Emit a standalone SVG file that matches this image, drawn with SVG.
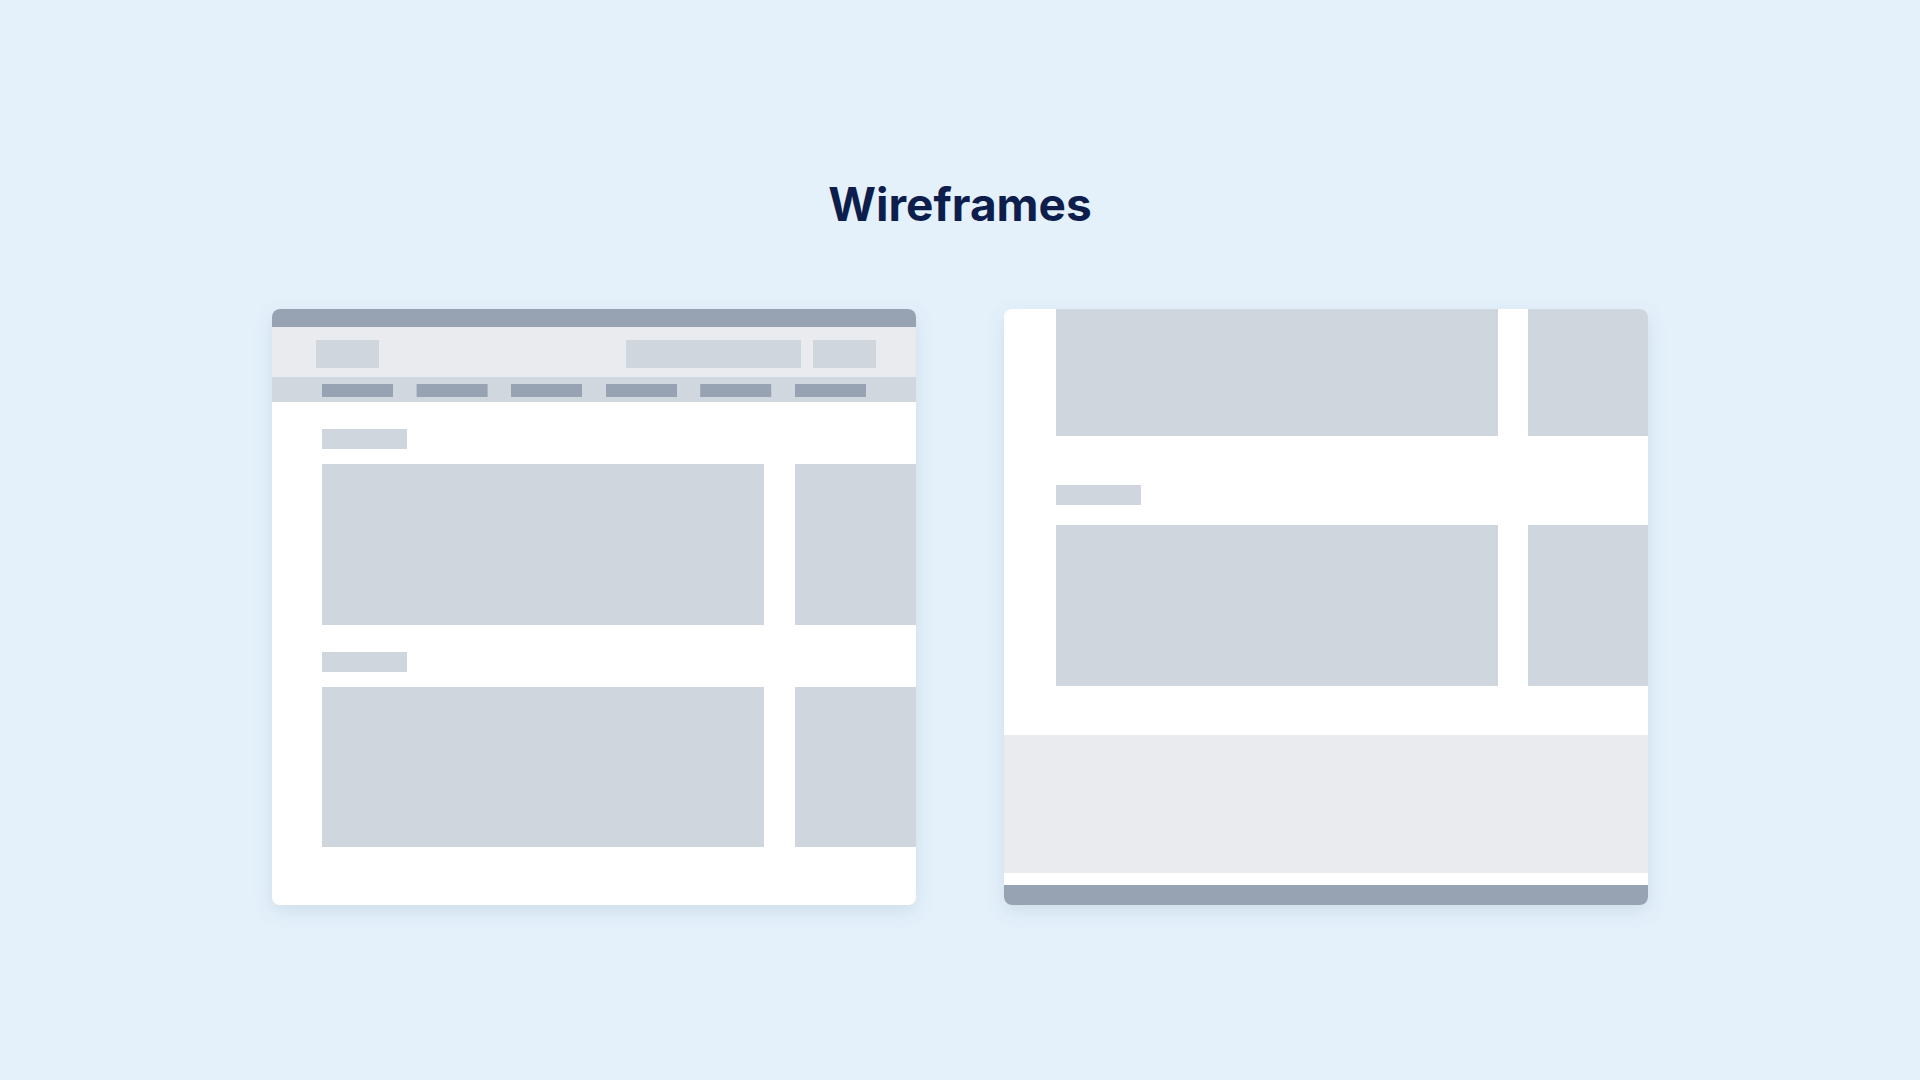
<svg xmlns="http://www.w3.org/2000/svg" width="1920" height="1080" viewBox="0 0 1920 1080">
  <style>
    .bg { fill: #E4F1FB; }
    .win { fill: #FFFFFF; }
    .bar { fill: #97A3B3; }
    .hdr { fill: #E9EBEF; }
    .nav { fill: #D0D7DF; }
    .ph { fill: #D0D6DE; }
    .navitem { fill: #97A3B3; }
    .title { font-family: Inter, "Liberation Sans", sans-serif; font-weight: 700; font-size: 46px; fill: #0D1E4C; }
  </style>
  <defs>
    <filter id="shadow" x="-10%" y="-10%" width="120%" height="125%">
      <feDropShadow dx="0" dy="6" stdDeviation="9" flood-color="#5A7090" flood-opacity="0.16"/>
    </filter>
    <clipPath id="clipL">
      <rect x="272" y="309" width="644" height="596" rx="8"/>
    </clipPath>
    <clipPath id="clipR">
      <rect x="1004" y="309" width="644" height="596" rx="8"/>
    </clipPath>
  </defs>

  <rect class="bg" x="0" y="0" width="1920" height="1080"/>

  <text class="title" x="960" y="221" text-anchor="middle">Wireframes</text>

  <g id="wireframe-desktop">
    <rect class="win" x="272" y="309" width="644" height="596" rx="8" filter="url(#shadow)"/>
    <g clip-path="url(#clipL)">
      <rect class="bar" x="272" y="309" width="644" height="18"/>
      <rect class="hdr" x="272" y="327" width="644" height="50"/>
      <rect class="ph" x="316" y="340" width="63" height="28"/>
      <rect class="ph" x="626" y="340" width="175" height="28"/>
      <rect class="ph" x="813" y="340" width="63" height="28"/>
      <rect class="nav" x="272" y="377" width="644" height="25"/>
      <rect class="navitem" x="322" y="384" width="71" height="13"/>
      <rect class="navitem" x="416.6" y="384" width="71" height="13"/>
      <rect class="navitem" x="511" y="384" width="71" height="13"/>
      <rect class="navitem" x="606" y="384" width="71" height="13"/>
      <rect class="navitem" x="700.2" y="384" width="71" height="13"/>
      <rect class="navitem" x="795" y="384" width="71" height="13"/>
      <rect class="ph" x="322" y="429" width="85" height="20"/>
      <rect class="ph" x="322" y="464" width="442" height="161"/>
      <rect class="ph" x="795" y="464" width="125" height="161"/>
      <rect class="ph" x="322" y="652" width="85" height="20"/>
      <rect class="ph" x="322" y="687" width="442" height="160"/>
      <rect class="ph" x="795" y="687" width="125" height="160"/>
    </g>
  </g>

  <g id="wireframe-scrolled">
    <rect class="win" x="1004" y="309" width="644" height="596" rx="8" filter="url(#shadow)"/>
    <g clip-path="url(#clipR)">
      <rect class="ph" x="1056" y="305" width="442" height="131"/>
      <rect class="ph" x="1528" y="305" width="124" height="131"/>
      <rect class="ph" x="1056" y="485" width="85" height="20"/>
      <rect class="ph" x="1056" y="525" width="442" height="161"/>
      <rect class="ph" x="1528" y="525" width="124" height="161"/>
      <rect class="hdr" x="1004" y="735" width="644" height="138"/>
      <rect class="bar" x="1004" y="885" width="644" height="20"/>
    </g>
  </g>
</svg>
